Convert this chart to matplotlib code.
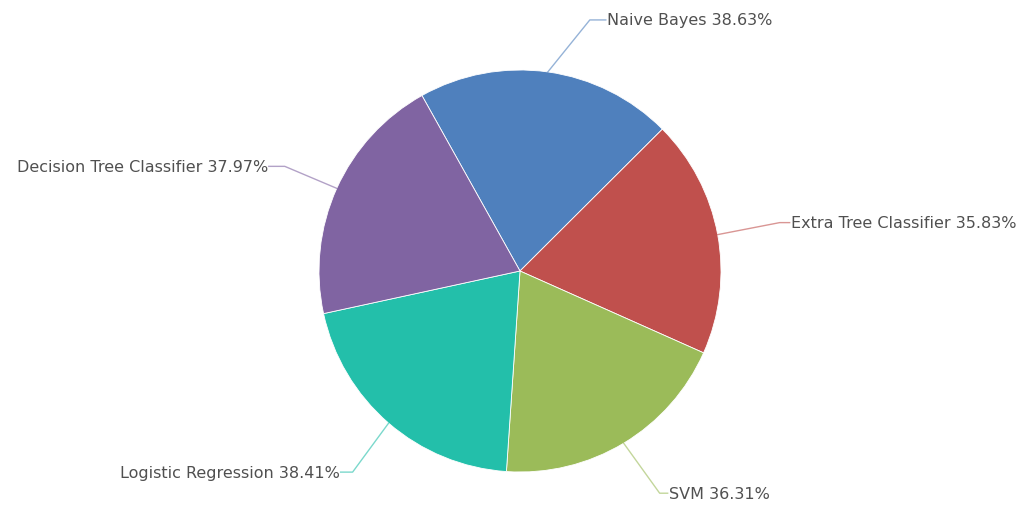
import numpy as np
import matplotlib
matplotlib.use("Agg")
import matplotlib.pyplot as plt

models = ["Naive Bayes", "Extra Tree Classifier", "SVM", "Logistic Regression", "Decision Tree Classifier"]
scores = [38.63, 35.83, 36.31, 38.41, 37.97]
colors = ["#4f80bd", "#c0504d", "#9bbb59", "#23bfaa", "#8064a2"]

# elbow offsets for the label lines (pixels, from the wedge edge)
elbow_off = [(42, 52), (62, 12), (36, -50), (-36, -49), (-52, 22)]
tail_len = [16, 10, 8, 12, 16]

W, H = 1027, 506
cx, cy, r = 520, H - 272, 201
start = 119.2

fig = plt.figure(figsize=(W / 100, H / 100), dpi=100)
ax = fig.add_axes([0, 0, 1, 1])

wedges, _ = ax.pie(scores, colors=colors, startangle=start, counterclock=False,
                   center=(cx, cy), radius=r, frame=True,
                   wedgeprops=dict(edgecolor="white", linewidth=0.6))
ax.set_xlim(0, W)
ax.set_ylim(0, H)
ax.set_aspect("equal")
ax.axis("off")

for i, w in enumerate(wedges):
    mid = np.deg2rad((w.theta1 + w.theta2) / 2)
    ex, ey = cx + r * np.cos(mid), cy + r * np.sin(mid)
    bx, by = ex + elbow_off[i][0], ey + elbow_off[i][1]
    side = 1 if bx > cx else -1
    tx = bx + side * tail_len[i]
    ax.plot([ex, bx, tx], [ey, by, by], color=colors[i], alpha=0.6, lw=1)
    ax.text(tx + side * 1, by, f"{models[i]} {scores[i]:.2f}%",
            ha="left" if side > 0 else "right", va="center",
            fontsize=11.5, color="#505050", family="DejaVu Sans")

fig.savefig("out.png", dpi=100, facecolor="white")
